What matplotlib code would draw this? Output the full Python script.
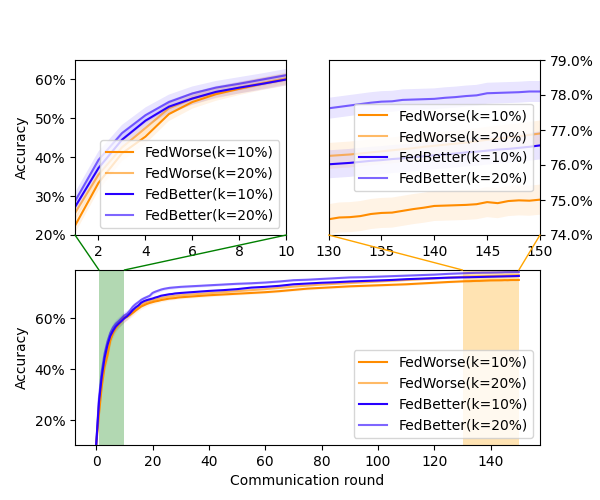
import numpy as np
import matplotlib
matplotlib.use("Agg")
import matplotlib.pyplot as plt
from matplotlib.ticker import PercentFormatter
from matplotlib.patches import ConnectionPatch

rounds = list(range(0, 31)) + list(range(35, 130, 5)) + list(range(130, 151))

labels = ["FedWorse(k=10%)", "FedWorse(k=20%)", "FedBetter(k=10%)", "FedBetter(k=20%)"]

fedworse_10 = [
    0.100, 0.224, 0.334, 0.410, 0.453, 0.511, 0.542, 0.562, 0.576, 0.589, 0.600,
    0.606, 0.613, 0.621, 0.630, 0.638, 0.646, 0.651, 0.656, 0.660, 0.663,
    0.666, 0.668, 0.671, 0.673, 0.675, 0.677, 0.678, 0.679, 0.681, 0.682,
    0.686, 0.690, 0.693, 0.696, 0.699, 0.702, 0.706, 0.711, 0.716, 0.719,
    0.722, 0.725, 0.727, 0.729, 0.731, 0.733, 0.736, 0.739, 0.742,
    0.7445, 0.7450, 0.7451, 0.7454, 0.7460, 0.7463, 0.7464, 0.7469, 0.7474, 0.7478,
    0.7483, 0.7484, 0.7485, 0.7486, 0.7488, 0.7494, 0.7491, 0.7497, 0.7499, 0.7498, 0.7501]
fedworse_20 = [
    0.100, 0.256, 0.355, 0.425, 0.475, 0.526, 0.551, 0.566, 0.579, 0.591, 0.603,
    0.607, 0.616, 0.626, 0.636, 0.644, 0.653, 0.659, 0.664, 0.667, 0.670,
    0.673, 0.676, 0.679, 0.681, 0.683, 0.685, 0.686, 0.688, 0.689, 0.690,
    0.694, 0.698, 0.702, 0.706, 0.710, 0.714, 0.719, 0.724, 0.728, 0.732,
    0.735, 0.738, 0.741, 0.744, 0.747, 0.750, 0.753, 0.756, 0.759,
    0.7626, 0.7628, 0.7630, 0.7633, 0.7636, 0.7639, 0.7642, 0.7645, 0.7648, 0.7652,
    0.7655, 0.7658, 0.7661, 0.7664, 0.7668, 0.7672, 0.7675, 0.7679, 0.7682, 0.7686, 0.7690]
fedbetter_10 = [
    0.100, 0.272, 0.372, 0.445, 0.494, 0.530, 0.551, 0.568, 0.579, 0.589, 0.600,
    0.608, 0.619, 0.632, 0.642, 0.650, 0.661, 0.667, 0.671, 0.674, 0.677,
    0.681, 0.684, 0.688, 0.690, 0.692, 0.694, 0.695, 0.697, 0.698, 0.699,
    0.703, 0.707, 0.710, 0.714, 0.720, 0.723, 0.727, 0.733, 0.736, 0.739,
    0.741, 0.744, 0.746, 0.748, 0.750, 0.753, 0.755, 0.757, 0.759,
    0.7602, 0.7604, 0.7606, 0.7609, 0.7612, 0.7614, 0.7617, 0.7619, 0.7622, 0.7625,
    0.7628, 0.7630, 0.7633, 0.7636, 0.7638, 0.7641, 0.7644, 0.7646, 0.7649, 0.7652, 0.7656]
fedbetter_20 = [
    0.100, 0.287, 0.393, 0.462, 0.508, 0.542, 0.564, 0.579, 0.589, 0.600, 0.611,
    0.618, 0.630, 0.645, 0.655, 0.663, 0.672, 0.678, 0.683, 0.688, 0.699,
    0.704, 0.708, 0.712, 0.715, 0.717, 0.719, 0.720, 0.721, 0.722, 0.723,
    0.726, 0.729, 0.732, 0.735, 0.737, 0.740, 0.744, 0.749, 0.751, 0.754,
    0.757, 0.760, 0.761, 0.763, 0.765, 0.767, 0.769, 0.771, 0.774,
    0.7762, 0.7766, 0.7770, 0.7774, 0.7778, 0.7781, 0.7782, 0.7786, 0.7787, 0.7788,
    0.7789, 0.7792, 0.7794, 0.7797, 0.7799, 0.7805, 0.7806, 0.7807, 0.7808, 0.7810, 0.7810]

std_fw10 = [0.005, 0.020, 0.020, 0.020, 0.019, 0.018, 0.017, 0.017, 0.016, 0.016, 0.016,
            0.014, 0.013, 0.012, 0.011, 0.010, 0.010, 0.009, 0.009, 0.008, 0.008,
            0.008, 0.007, 0.007, 0.007, 0.007, 0.006, 0.006, 0.006, 0.006, 0.006,
            0.006, 0.006, 0.005, 0.005, 0.005, 0.005, 0.005, 0.005, 0.005, 0.005,
            0.005, 0.005, 0.005, 0.005, 0.0045, 0.0045, 0.0045, 0.0045, 0.0043,
            0.0043, 0.0043, 0.0043, 0.0043, 0.0043, 0.0043, 0.0043, 0.0043, 0.0043, 0.0043,
            0.0043, 0.0043, 0.0043, 0.0043, 0.0043, 0.0043, 0.0043, 0.0043, 0.0043, 0.0043, 0.0043]
std_fw20 = [0.005, 0.018, 0.018, 0.018, 0.017, 0.016, 0.016, 0.015, 0.015, 0.015, 0.015,
            0.013, 0.012, 0.011, 0.010, 0.010, 0.009, 0.009, 0.008, 0.008, 0.008,
            0.007, 0.007, 0.007, 0.006, 0.006, 0.006, 0.006, 0.006, 0.006, 0.005,
            0.005, 0.005, 0.005, 0.005, 0.005, 0.0045, 0.0045, 0.0045, 0.0045, 0.0045,
            0.004, 0.004, 0.004, 0.004, 0.004, 0.004, 0.004, 0.004, 0.0038,
            0.0037, 0.0037, 0.0037, 0.0037, 0.0037, 0.0037, 0.0037, 0.0037, 0.0037, 0.0037,
            0.0037, 0.0037, 0.0037, 0.0037, 0.0037, 0.0037, 0.0037, 0.0037, 0.0037, 0.0037, 0.0037]
std_fb10 = [0.005, 0.018, 0.018, 0.018, 0.017, 0.016, 0.016, 0.015, 0.015, 0.015, 0.015,
            0.013, 0.012, 0.011, 0.010, 0.010, 0.009, 0.009, 0.008, 0.008, 0.008,
            0.007, 0.007, 0.007, 0.006, 0.006, 0.006, 0.006, 0.006, 0.006, 0.005,
            0.005, 0.005, 0.005, 0.005, 0.005, 0.0045, 0.0045, 0.0045, 0.0045, 0.0045,
            0.0042, 0.0042, 0.0042, 0.0042, 0.0042, 0.0042, 0.0041, 0.0041, 0.0040,
            0.0040, 0.0040, 0.0040, 0.0040, 0.0040, 0.0040, 0.0040, 0.0040, 0.0040, 0.0040,
            0.0040, 0.0040, 0.0040, 0.0040, 0.0040, 0.0040, 0.0040, 0.0040, 0.0040, 0.0040, 0.0040]
std_fb20 = [0.005, 0.022, 0.022, 0.021, 0.020, 0.019, 0.018, 0.017, 0.017, 0.016, 0.016,
            0.014, 0.013, 0.012, 0.011, 0.010, 0.010, 0.009, 0.009, 0.008, 0.008,
            0.007, 0.007, 0.007, 0.006, 0.006, 0.006, 0.006, 0.005, 0.005, 0.005,
            0.005, 0.005, 0.0045, 0.0045, 0.0045, 0.004, 0.004, 0.004, 0.004, 0.004,
            0.0035, 0.0035, 0.0035, 0.0035, 0.0033, 0.0033, 0.0032, 0.0032, 0.0031,
            0.0030, 0.0030, 0.0030, 0.0030, 0.0030, 0.0030, 0.0030, 0.0030, 0.0030, 0.0030,
            0.0030, 0.0030, 0.0030, 0.0030, 0.0030, 0.0030, 0.0030, 0.0030, 0.0030, 0.0030, 0.0030]

series = [fedworse_10, fedworse_20, fedbetter_10, fedbetter_20]
stds = [std_fw10, std_fw20, std_fb10, std_fb20]
colors = ["darkorange", "darkorange", "#2800ff", "#2800ff"]
line_alpha = [1.0, 0.6, 1.0, 0.6]

fig = plt.figure(figsize=(6, 5), dpi=100)
ax1 = plt.subplot(2, 2, 1)
ax2 = plt.subplot(2, 2, 2)
ax3 = plt.subplot(2, 1, 2)

x = np.array(rounds)
for ax in (ax1, ax2, ax3):
    for vals, sd, c, a, lab in zip(series, stds, colors, line_alpha, labels):
        v = np.array(vals)
        s = np.array(sd)
        ax.plot(x, v, color=c, alpha=a, lw=1.5, label=lab)
        ax.fill_between(x, v - s, v + s, color=c, alpha=0.1, lw=0)

# left inset
ax1.set_xlim(1, 10)
ax1.set_ylim(0.20, 0.65)
ax1.set_xticks([2, 4, 6, 8, 10])
ax1.set_yticks([0.2, 0.3, 0.4, 0.5, 0.6])
ax1.yaxis.set_major_formatter(PercentFormatter(1, decimals=0))
ax1.set_ylabel("Accuracy")
ax1.legend(loc="lower right")

# right inset
ax2.set_xlim(130, 150)
ax2.set_ylim(0.74, 0.79)
ax2.set_xticks([130, 135, 140, 145, 150])
ax2.set_yticks([0.74, 0.75, 0.76, 0.77, 0.78, 0.79])
ax2.yaxis.tick_right()
ax2.yaxis.set_major_formatter(PercentFormatter(1, decimals=1))
ax2.legend(loc="center right")

# main
ax3.set_xlim(-7.5, 157.5)
ax3.set_ylim(0.103, 0.789)
ax3.set_xticks([0, 20, 40, 60, 80, 100, 120, 140])
ax3.set_yticks([0.2, 0.4, 0.6])
ax3.yaxis.set_major_formatter(PercentFormatter(1, decimals=0))
ax3.set_ylabel("Accuracy")
ax3.set_xlabel("Communication round")
ax3.axvspan(1, 10, color="green", alpha=0.3, lw=0)
ax3.axvspan(130, 150, color="orange", alpha=0.3, lw=0)
ax3.legend(loc="lower right")

top = ax3.get_ylim()[1]
for xa, xb, ya, axA, col in [(1, 1, 0.20, ax1, "green"), (10, 10, 0.20, ax1, "green"),
                              (130, 130, 0.74, ax2, "orange"), (150, 150, 0.74, ax2, "orange")]:
    cp = ConnectionPatch(xyA=(xa, ya), coordsA=axA.transData,
                         xyB=(xb, top), coordsB=ax3.transData,
                         color=col, lw=1)
    fig.add_artist(cp)

fig.savefig("out.png", dpi=100)
